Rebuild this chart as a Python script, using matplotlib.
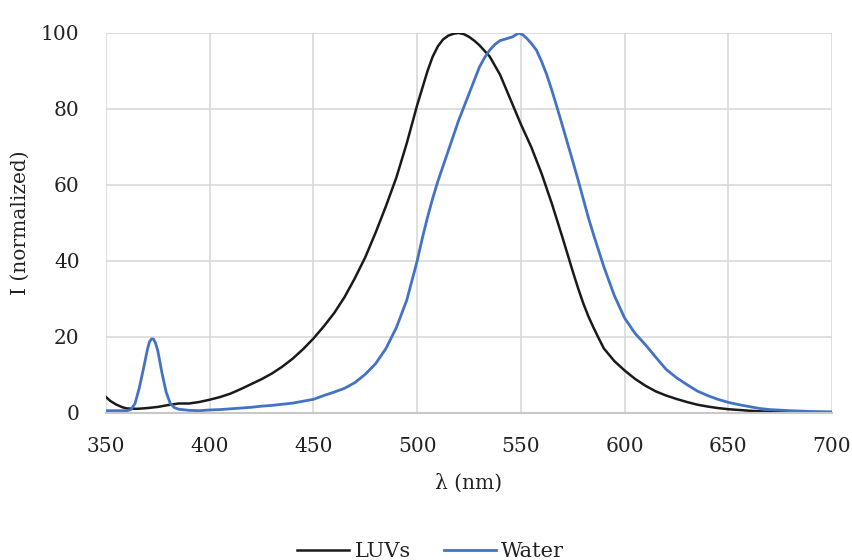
import numpy as np
import matplotlib
matplotlib.use('Agg')
import matplotlib.pyplot as plt

# LUVs emission (black)
luv_nm = [350, 352, 355, 358, 360, 365, 370, 375, 380, 385, 390, 395, 400,
          405, 410, 415, 420, 425, 430, 435, 440, 445, 450, 455, 460, 465,
          470, 475, 480, 485, 490, 495, 500, 505, 507.5, 510, 512.5, 515,
          517.5, 520, 522.5, 525, 527.5, 530, 535, 540, 545, 550, 555, 560,
          565, 570, 572.5, 575, 577.5, 580, 582.5, 585, 587.5, 590, 595, 600,
          605, 610, 615, 620, 625, 630, 635, 640, 645, 650, 660, 670, 680,
          690, 700]
luv_i = [4.2, 3.2, 2.2, 1.5, 1.2, 1.1, 1.3, 1.6, 2.1, 2.5, 2.5, 2.9, 3.5,
         4.2, 5.1, 6.3, 7.6, 8.9, 10.4, 12.2, 14.3, 16.8, 19.6, 22.8, 26.3,
         30.5, 35.5, 41.0, 47.5, 54.5, 62.0, 71.0, 81.0, 90.0, 93.8, 96.5,
         98.3, 99.3, 99.8, 100.0, 99.7, 99.0, 98.0, 96.8, 93.8, 89.0, 82.5,
         76.0, 70.0, 63.0, 55.0, 46.3, 41.8, 37.3, 33.0, 29.0, 25.5, 22.5,
         19.7, 17.0, 13.7, 11.2, 9.0, 7.2, 5.7, 4.6, 3.7, 2.9, 2.2, 1.7,
         1.3, 1.0, 0.6, 0.3, 0.2, 0.1, 0.1]

# Water emission (blue)
wat_nm = [350, 355, 360, 362, 364, 366, 368, 370, 371, 372, 373, 374, 375,
          377, 379, 381, 383, 385, 390, 395, 400, 405, 410, 415, 420, 425,
          430, 435, 440, 445, 450, 455, 460, 465, 470, 475, 480, 485, 490,
          495, 500, 502.5, 505, 507.5, 510, 512.5, 515, 517.5, 520, 522.5,
          525, 527.5, 530, 532.5, 535, 537.5, 540, 542.5, 546, 549, 551,
          553, 555, 557.5, 560, 562.5, 565, 567.5, 570, 572.5, 575, 577.5,
          580, 582.5, 585, 590, 595, 600, 605, 610, 615, 620, 625, 630, 635,
          640, 645, 650, 655, 660, 665, 670, 680, 690, 700]
wat_i = [0.6, 0.6, 0.6, 0.9, 2.5, 6.5, 11.5, 16.8, 18.8, 19.5, 19.4, 18.2,
         16.3, 10.5, 5.5, 2.5, 1.4, 1.0, 0.7, 0.6, 0.8, 0.9, 1.1, 1.3, 1.5,
         1.8, 2.0, 2.3, 2.6, 3.1, 3.6, 4.6, 5.5, 6.5, 8.0, 10.2, 13.0, 17.0,
         22.5, 29.7, 40.0, 46.0, 51.5, 56.5, 61.0, 65.0, 69.0, 73.0, 77.0,
         80.5, 84.0, 87.5, 91.0, 93.5, 95.5, 97.0, 98.0, 98.4, 99.0, 100.0,
         99.5, 98.5, 97.3, 95.5, 92.5, 89.0, 84.8, 80.3, 75.7, 71.0, 66.3,
         61.5, 56.5, 51.5, 47.0, 38.5, 31.0, 25.0, 21.0, 18.0, 14.7, 11.5,
         9.3, 7.5, 5.8, 4.6, 3.6, 2.8, 2.2, 1.7, 1.2, 0.9, 0.6, 0.4, 0.3]

x_ticks = [350, 400, 450, 500, 550, 600, 650, 700]
y_ticks = [0, 20, 40, 60, 80, 100]

INK = '#222222'
BLUE = '#4472c4'
GRID = '#d9d9d9'
FS = 14.5

plt.rcParams['font.family'] = ['DejaVu Serif']

fig = plt.figure(figsize=(8.53, 5.6), dpi=100)
ax = fig.add_axes([106 / 853, 1 - 413 / 560, 726 / 853, 380 / 560])

ax.plot(luv_nm, luv_i, color='#1a1a1a', lw=1.8, label='LUVs')
ax.plot(wat_nm, wat_i, color=BLUE, lw=2.0, label='Water')

ax.set_xlim(350, 700)
ax.set_ylim(0, 100)
ax.set_xticks(x_ticks)
ax.set_yticks(y_ticks)
ax.grid(True, color=GRID, lw=1.2)
ax.set_axisbelow(True)
for side in ('top', 'right', 'left'):
    ax.spines[side].set_visible(False)
ax.spines['bottom'].set_color('#c8c8c8')
ax.spines['bottom'].set_linewidth(1.5)
ax.tick_params(length=0, labelsize=FS, colors=INK)
ax.tick_params(axis='x', pad=17)
ax.tick_params(axis='y', pad=19)

ax.set_xlabel('λ (nm)', fontsize=FS, color=INK, labelpad=13)
ax.set_ylabel('I (normalized)', fontsize=FS, color=INK, labelpad=8)

fig.legend(loc='lower center', bbox_to_anchor=(0.505, -0.035), ncol=2,
           frameon=False, fontsize=15, handlelength=2.5, handletextpad=0.25,
           columnspacing=1.6, labelcolor=INK)

fig.savefig('out.png', dpi=100, facecolor='white')
